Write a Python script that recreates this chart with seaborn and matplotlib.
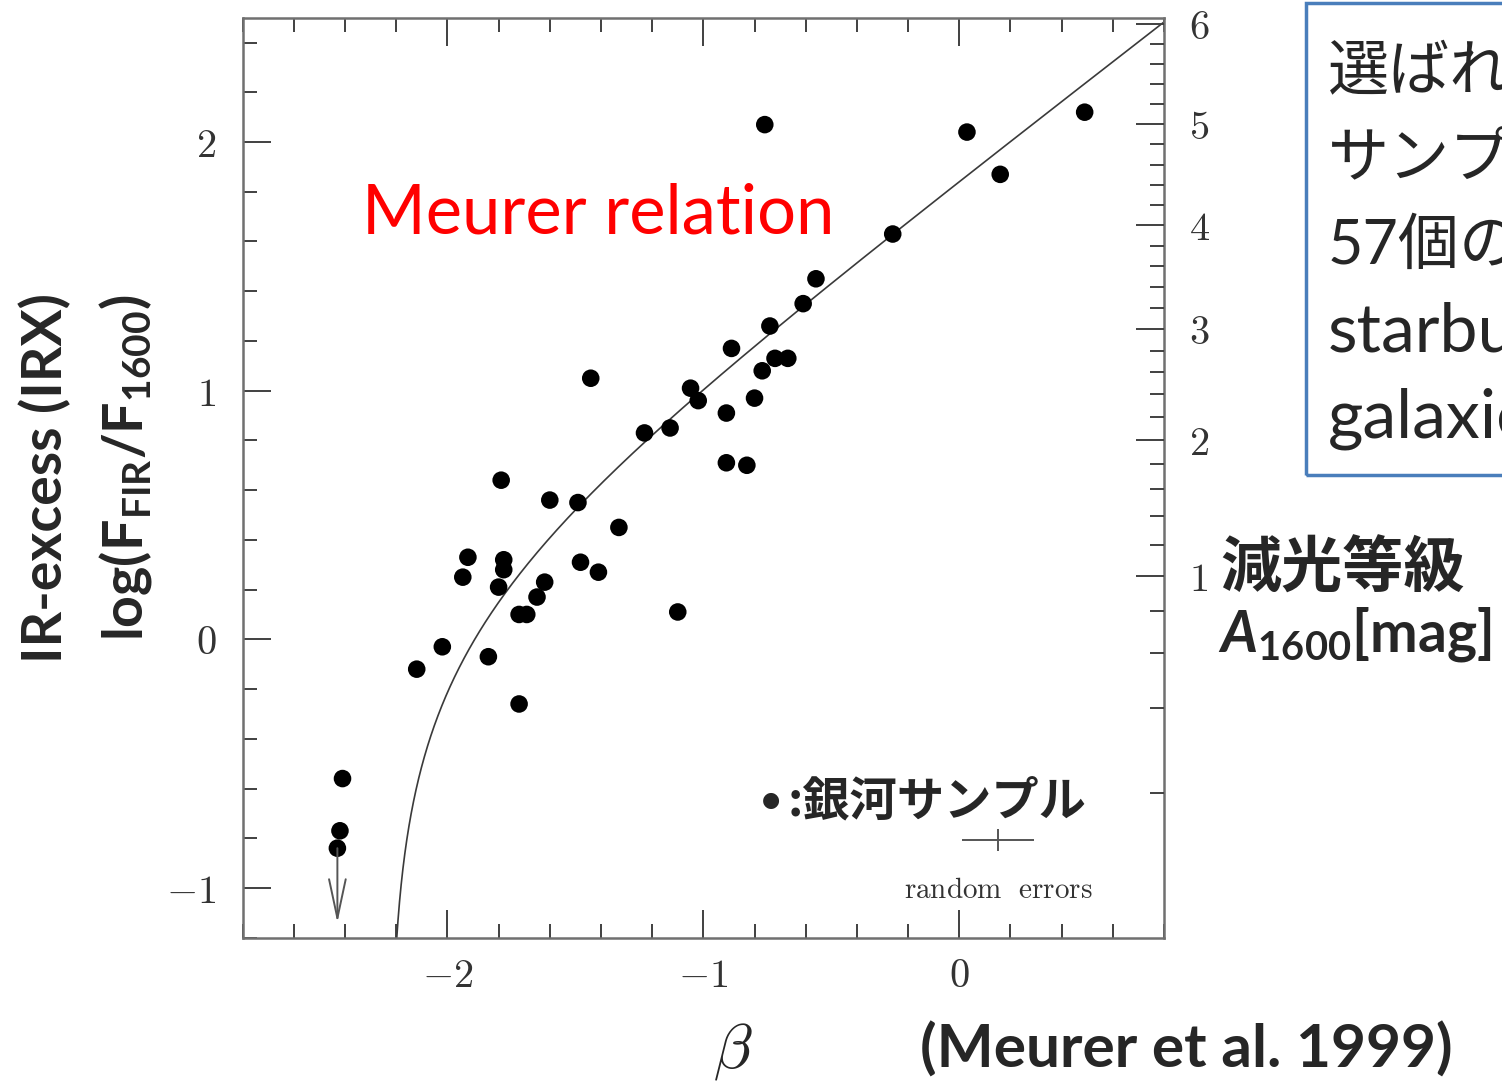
import numpy as np
import pandas as pd
import matplotlib
matplotlib.use("Agg")
import matplotlib.pyplot as plt
import seaborn as sns
from matplotlib.patches import Rectangle
from matplotlib.ticker import FixedLocator, MultipleLocator, FuncFormatter

# ---------------- data ----------------
beta = [-0.76, 0.03, 0.49, 0.16, -0.26, -0.56, -0.61, -0.74, -0.89, -0.72,
        -0.67, -0.77, -1.44, -1.05, -1.02, -0.80, -0.91, -1.23, -1.13, -0.91,
        -0.83, -1.79, -1.60, -1.49, -1.33, -1.92, -1.78, -1.78, -1.94, -1.48,
        -1.41, -1.80, -1.62, -1.65, -1.72, -1.69, -1.10, -2.02, -1.84, -2.12,
        -1.72, -2.41, -2.42, -2.43]
irx = [2.07, 2.04, 2.12, 1.87, 1.63, 1.45, 1.35, 1.26, 1.17, 1.13,
       1.13, 1.08, 1.05, 1.01, 0.96, 0.97, 0.91, 0.83, 0.85, 0.71,
       0.70, 0.64, 0.56, 0.55, 0.45, 0.33, 0.32, 0.28, 0.25, 0.31,
       0.27, 0.21, 0.23, 0.17, 0.10, 0.10, 0.11, -0.03, -0.07, -0.12,
       -0.26, -0.56, -0.77, -0.84]
upper_limit = [False] * 43 + [True]
limit_arrow_end = -1.14

# random-error cross
err_beta, err_irx = 0.152, -0.808
err_dbeta, err_dirx = 0.141, 0.044

# Meurer et al. (1999) relation: A1600 = A0 + slope*beta,
# IRX = log10(bc * (10**(0.4*A1600) - 1))
meurer_A0 = 4.43
meurer_slope = 1.99
meurer_bc = 1.19

x_ticks = [-2, -1, 0]
y_ticks = [-1, 0, 1, 2]
a_ticks = [1, 2, 3, 4, 5, 6]
xlim = (-2.8, 0.8)
ylim = (-1.2, 2.5)

box_lines = ["選ばれた", "サンプル：", "57個の", "starburst", "galaxies"]
box_sizes = [44, 44, 44, 49, 49]

# ---------------- style ----------------
sns.set_style("ticks")
plt.rcParams.update({
    "mathtext.fontset": "cm",
    "mathtext.rm": "Lato",
    "mathtext.bf": "Lato:bold",
    "mathtext.it": "Lato:italic",
    "mathtext.bfit": "Lato:bold:italic",
    "axes.unicode_minus": True,
})
plt.rcParams["font.family"] = ["Lato", "Noto Sans CJK JP", "DejaVu Sans"]

W, H = 1502, 1088
fig = plt.figure(figsize=(W / 100, H / 100), dpi=100)


def fx(px):
    return px / W


def fy(py):
    return 1 - py / H


ax = fig.add_axes([fx(242.7), fy(937.7), (1164 - 242.7) / W, (937.7 - 17.7) / H])

df = pd.DataFrame({"beta": beta, "irx": irx, "upper": upper_limit})


def A_to_irx(A):
    A = np.asarray(A, dtype=float)
    return np.log10(meurer_bc * (10 ** (0.4 * A) - 1))


# Meurer relation curve
A_curve = np.geomspace(0.03, 6.1, 600)
curve = pd.DataFrame({"beta": (A_curve - meurer_A0) / meurer_slope,
                      "irx": A_to_irx(A_curve)})
sns.lineplot(data=curve, x="beta", y="irx", sort=False, estimator=None,
             color="#3a3a3a", lw=1.2, ax=ax)

sns.scatterplot(data=df, x="beta", y="irx", color="black", s=160,
                edgecolor="none", ax=ax, zorder=3)

# upper-limit arrow
for _, r in df[df["upper"]].iterrows():
    ax.annotate("", xy=(r["beta"], limit_arrow_end), xytext=(r["beta"], r["irx"]),
                arrowprops=dict(arrowstyle="->,head_length=1.4,head_width=0.3",
                                color="#555555", lw=1.4, mutation_scale=20,
                                shrinkA=0, shrinkB=0))

# random errors cross
ax.errorbar(err_beta, err_irx, xerr=err_dbeta, yerr=err_dirx, fmt="none",
            ecolor="#555555", elinewidth=1.4, capsize=0)
ax.text(err_beta, -1.01, r"$\mathrm{random\ \ errors}$", ha="center", va="center",
        fontsize=21, color="#333333")

ax.set_xlim(*xlim)
ax.set_ylim(*ylim)
ax.set_xlabel("")
ax.set_ylabel("")

spine_c = "#707070"
for s in ax.spines.values():
    s.set_visible(True)
    s.set_color(spine_c)
    s.set_linewidth(1.8)

fmt = FuncFormatter(lambda v, p: r"$%d$" % round(v))
ax.xaxis.set_major_locator(FixedLocator(x_ticks))
ax.xaxis.set_minor_locator(MultipleLocator(0.2))
ax.yaxis.set_major_locator(FixedLocator(y_ticks))
ax.yaxis.set_minor_locator(MultipleLocator(0.2))
ax.xaxis.set_major_formatter(fmt)
ax.yaxis.set_major_formatter(fmt)
ax.tick_params(axis="both", which="both", direction="in", color="#404040",
               labelcolor="#333333", labelsize=29, width=1.4)
ax.tick_params(axis="x", which="both", top=True, bottom=True)
ax.tick_params(axis="y", which="both", left=True, right=False)
ax.tick_params(which="major", length=20)
ax.tick_params(which="minor", length=10)
ax.tick_params(axis="x", which="major", pad=14)
ax.tick_params(axis="y", which="major", pad=19)

# right axis: A1600 [mag]
ax2 = ax.twinx()
ax2.set_ylim(*ylim)
a_minor = [v for v in np.round(np.arange(0.2, 6.01, 0.2), 1) if v not in a_ticks]
ax2.yaxis.set_major_locator(FixedLocator(A_to_irx(a_ticks)))
ax2.yaxis.set_minor_locator(FixedLocator(A_to_irx(a_minor)))
ax2.set_yticklabels([r"$%d$" % a for a in a_ticks])
ax2.tick_params(axis="y", which="both", direction="in", color="#404040",
                labelcolor="#333333", labelsize=29, width=1.4,
                left=False, right=True)
ax2.tick_params(which="major", length=20, pad=18)
ax2.tick_params(which="minor", length=10)
for s in ax2.spines.values():
    s.set_visible(False)

# ---------------- texts ----------------
fig.text(fx(362), fy(233), "Meurer relation", color="red", fontsize=49.5,
         family="Lato", va="baseline")

fig.text(fx(45), fy(478), "IR-excess (IRX)", rotation=90, fontsize=40,
         weight="bold", ha="center", va="center")
fig.text(fx(125), fy(468), r"$\mathbf{log(F_{FIR}/F_{1600})}$", rotation=90,
         fontsize=40, ha="center", va="center", math_fontfamily="custom")

fig.text(fx(733), fy(1052), r"$\beta$", fontsize=46, ha="center", va="center")
fig.text(fx(920), fy(1068), "(Meurer et al. 1999)", fontsize=43.5,
         weight="bold", va="baseline")

fig.text(fx(1220), fy(588), "減光等級", fontsize=44, weight="bold",
         family=["Noto Sans CJK JP"], va="baseline")
fig.text(fx(1218), fy(652), r"$\mathbfit{A}_{\mathbf{1600}}\mathbf{[mag]}$",
         fontsize=41, va="baseline", math_fontfamily="custom")

fig.text(fx(771), fy(800), "●", fontsize=15, ha="center", va="center",
         family=["DejaVu Sans"])
fig.text(fx(788), fy(815), ":銀河サンプル", fontsize=34, weight="bold",
         family=["Noto Sans CJK JP"], va="baseline")

box = Rectangle((fx(1306), fy(475)), 0.5, (475 - 3) / H, transform=fig.transFigure,
                fill=False, edgecolor="#4a7ebb", lw=2.5)
fig.add_artist(box)
for line, base, fs in zip(box_lines, [90, 177, 264, 351, 438], box_sizes):
    fig.text(fx(1328), fy(base), line, fontsize=fs,
             family=["Lato", "Noto Sans CJK JP"], va="baseline")

fig.savefig("out.png", dpi=100)
